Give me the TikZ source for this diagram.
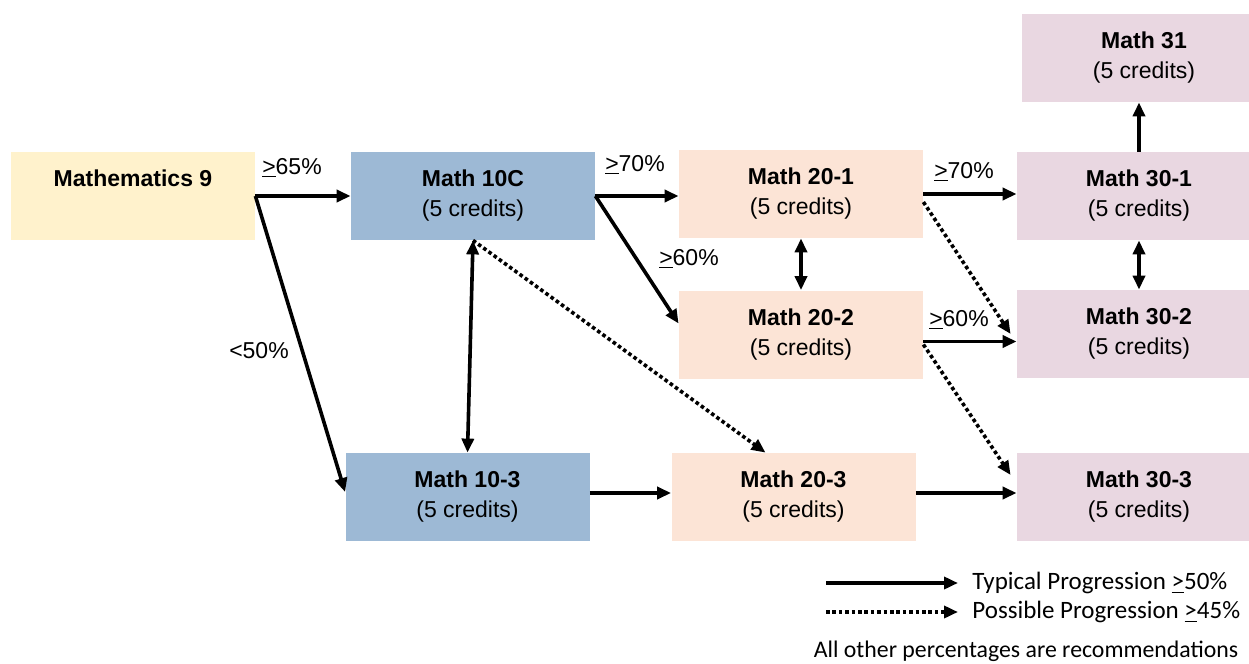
\documentclass[tikz,border=0pt]{standalone}
\usepackage{fontspec}
\setmainfont{Liberation Sans}
\newfontfamily\legendfont{Carlito}
\usepackage{tikz}
\usetikzlibrary{arrows.meta, positioning, calc}
\usepackage{xcolor}
\definecolor{nineFill}{RGB}{255,242,204}
\definecolor{tenFill}{RGB}{157,185,213}
\definecolor{twentyFill}{RGB}{252,228,214}
\definecolor{thirtyFill}{RGB}{233,215,225}
\newcommand{\uge}{\underline{>}}
\tikzset{
  course/.style={
    rectangle, draw=none,
    minimum width=122pt, minimum height=44pt,
    align=center, inner sep=0pt,
    font=\fontsize{11.5}{15}\selectfont
  },
  ninebox/.style={course, fill=nineFill},
  tenbox/.style={course, fill=tenFill},
  twentybox/.style={course, fill=twentyFill},
  thirtybox/.style={course, fill=thirtyFill},
  pct/.style={font=\fontsize{11.5}{14}\selectfont, inner sep=0pt},
  legtxt/.style={font=\legendfont\fontsize{12.5}{14}\selectfont,
    inner sep=0pt},
  arr/.style={-{Triangle[length=7pt,width=6pt]}, line width=1.8pt},
  dbl/.style={{Triangle[length=7pt,width=6pt]}-{Triangle[length=7pt,width=6pt]},
    line width=1.8pt},
  dotarr/.style={arr, dash pattern=on 1.8pt off 1.4pt}
}

\begin{document}
\begin{tikzpicture}[x=0.5pt, y=-0.5pt]

\useasboundingbox (0,0) rectangle (1249,664);
\clip (0,0) rectangle (1249,664);

% ── Column 1: grade 9 ───────────────────────────────────────
\node[ninebox] (m9) at (133,196) {%
  \textbf{Mathematics 9}\\\phantom{(5 credits)}};

% ── Column 2: grade 10 ──────────────────────────────────────
\node[tenbox] (m10c) at (473,196) {\textbf{Math 10C}\\(5 credits)};
\node[tenbox] (m103) at (467.5,497) {\textbf{Math 10-3}\\(5 credits)};

% ── Column 3: grade 11 ──────────────────────────────────────
\node[twentybox] (m201) at (801,194) {\textbf{Math 20-1}\\(5 credits)};
\node[twentybox] (m202) at (801,334.5) {\textbf{Math 20-2}\\(5 credits)};
\node[twentybox] (m203) at (793.5,497) {\textbf{Math 20-3}\\(5 credits)};

% ── Column 4: grade 12 ──────────────────────────────────────
\node[thirtybox] (m31) at (1144,58) {\textbf{Math 31}\\(5 credits)};
\node[thirtybox] (m301) at (1139,196) {\textbf{Math 30-1}\\(5 credits)};
\node[thirtybox] (m302) at (1139,334) {\textbf{Math 30-2}\\(5 credits)};
\node[thirtybox] (m303) at (1139,497) {\textbf{Math 30-3}\\(5 credits)};

% ── Typical progressions ────────────────────────────────────
\draw[arr] (m9.east) -- (m10c.west);
\draw[arr] (m9.east) -- ([yshift=2.5pt]m103.west);
\draw[arr] (m10c.east) -- (m10c.east -| m201.west);
\draw[arr] (m10c.east) -- ([yshift=5.5pt]m202.west);
\draw[arr] (m201.east) -- (m201.east -| m301.west);
\draw[arr] ([yshift=-3.5pt]m202.east) -- ([yshift=-3.5pt]m202.east -| m302.west);
\draw[arr] ([yshift=2pt]m103.east) -- ([yshift=2pt]m203.west);
\draw[arr] ([yshift=2pt]m203.east) -- ([yshift=2pt]m303.west);
\draw[arr] (m301.north) -- (m301.north |- m31.south);

% ── Transfers both ways ─────────────────────────────────────
\draw[dbl] (m10c.south) -- (m103.north);
\draw[dbl] (m201.south) -- (m202.north);
\draw[dbl] (m301.south) -- (m302.north);

% ── Possible progressions ───────────────────────────────────
\draw[dotarr] (m10c.south) -- ([xshift=-14pt]m203.north);
\draw[dotarr] ([yshift=-4pt]m201.east) -- ([xshift=-3pt]m302.west);
\draw[dotarr] ([yshift=-5pt]m202.east) -- ([xshift=-3pt,yshift=11pt]m303.west);

% ── Percentages ─────────────────────────────────────────────
\node[pct] (p65) at (292,168) {\uge65\%};
\node[pct] (p50) at (259,351) {<50\%};
\node[pct] (p70a) at (635,165) {\uge70\%};
\node[pct] (p60a) at (689,259) {\uge60\%};
\node[pct] (p70b) at (964,172) {\uge70\%};
\node[pct] (p60b) at (959,320) {\uge60\%};

% ── Legend ──────────────────────────────────────────────────
\coordinate (typA) at (826,583);
\coordinate (typB) at (958,583);
\coordinate (posA) at (826,612);
\coordinate (posB) at (958,612);
\draw[arr] (typA) -- (typB);
\draw[dotarr] (posA) -- (posB);
\node[legtxt, anchor=west] (typ) at (972,583) {Typical Progression \uge50\%};
\node[legtxt, anchor=west] (pos) at (972,612) {Possible Progression \uge45\%};
\node[legtxt, font=\legendfont\fontsize{11.9}{14}\selectfont] (note)
  at (1026,651) {All other percentages are recommendations};

\end{tikzpicture}
\end{document}
